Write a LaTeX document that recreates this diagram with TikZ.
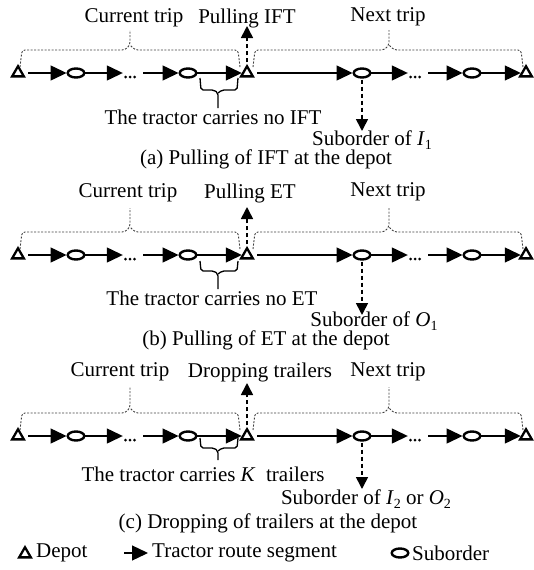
\documentclass[tikz,border=0pt]{standalone}
\usepackage{fontspec}
\setmainfont{Liberation Serif}
\usetikzlibrary{arrows.meta,shapes.geometric}
\newcommand\subtxt[1]{\raisebox{-0.2em}{\fontsize{14}{14}\selectfont #1}}
\newcommand\routerow[2]{%
  \node[depot] (#1d1) at (18,#2) {};
  \node[subord] (#1e1) at (76,#2) {};
  \node[hold] (#1k1) at (130,#2) {};
  \node[subord] (#1e2) at (188,#2) {};
  \node[depot] (#1d2) at (247,#2) {};
  \node[subord] (#1e3) at (362,#2) {};
  \node[hold] (#1k2) at (415,#2) {};
  \node[subord] (#1e4) at (472,#2) {};
  \node[depot] (#1d3) at (526,#2) {};
  \foreach \dx in {-4.5,0,4.5}{\fill ([xshift=\dx pt,yshift=-4pt]#1k1.center) circle (1.5pt);
    \fill ([xshift=\dx pt,yshift=-4pt]#1k2.center) circle (1.5pt);}
  \draw[seg,shorten <=5pt] (#1d1) -- (#1e1);
  \draw[seg] (#1e1) -- (#1k1);
  \draw[seg,shorten <=6pt] (#1k1) -- (#1e2);
  \draw[seg] (#1e2) -- (#1d2);
  \draw[seg,shorten <=5pt] (#1d2) -- (#1e3);
  \draw[seg] (#1e3) -- (#1k2);
  \draw[seg,shorten <=6pt] (#1k2) -- (#1e4);
  \draw[seg] (#1e4) -- (#1d3);
}
% upper dashed brace: xL, xR, xm, row, tipY
\newcommand\upbr[5]{%
  \draw[brc] (#1,#4-6) -- (#1+2,#4-23) -- (#3-5,#4-23) -- (#3,#4-28) -- (#3,#5);
  \draw[brc] (#2,#4-6) -- (#2-2,#4-23) -- (#3+5,#4-23) -- (#3,#4-28);}
% lower solid brace: row, top, h, tip
\newcommand\dnbr[4]{%
  \draw[ubrc] (200,#1+#2) -- (201,#1+#3) -- (214,#1+#3) -- (218,#1+#3+3) -- (218,#1+#4);
  \draw[ubrc] (238,#1+#2) -- (237,#1+#3) -- (222,#1+#3) -- (218,#1+#3+3);}
\begin{document}
\begin{tikzpicture}[x=1pt,y=-1pt,
  txt/.style={font=\fontsize{21}{24}\selectfont, inner sep=0pt},
  ltxt/.style={font=\fontsize{21}{24}\selectfont, inner sep=0pt, anchor=west},
  depot/.style={regular polygon, regular polygon sides=3, draw, line width=2.3pt, minimum size=13.5pt, inner sep=0pt, fill=white},
  subord/.style={ellipse, draw, line width=2.4pt, minimum width=16.5pt, minimum height=9pt, inner sep=0pt, fill=white},
  hold/.style={inner sep=0pt, minimum width=14pt, minimum height=6pt},
  seg/.style={line width=1.3pt, -{Triangle[length=16pt,width=15pt]}},
  darr/.style={line width=1.6pt, dash pattern=on 4pt off 3pt, -{Triangle[length=12pt,width=12pt]}},
  brc/.style={line width=0.9pt, dash pattern=on 2pt off 1.5pt, rounded corners=3pt, black!75},
  ubrc/.style={line width=1.3pt, rounded corners=2pt}]
\useasboundingbox (0,0) rectangle (534,570);

% ---------- panel (a) ----------
\routerow{a}{73}
\node[txt] (acur) at (134,18) {Current trip};
\node[txt] (apul) at (247,18) {Pulling IFT};
\node[txt] (anext) at (388,17) {Next trip};
\node[txt] (atra) at (213,117) {The tractor carries no IFT};
\node[txt] (asub) at (372,140) {Suborder of \textit{I}\subtxt{1}};
\node[txt] (acap) at (266,159) {(a) Pulling of IFT at the depot};
\coordinate (apu) at (247,26);
\coordinate (asu) at (362,131);
\draw[darr,shorten <=1.5pt] (ad2.north) -- (apu);
\draw[darr,shorten <=1pt] (ae3.south) -- (asu);
\upbr{20}{240}{130}{73}{30}
\upbr{253}{523}{389}{73}{30}
\dnbr{73}{5}{17}{35}

% ---------- panel (b) ----------
\routerow{b}{255}
\node[txt] (bcur) at (128,193) {Current trip};
\node[txt] (bpul) at (250,193) {Pulling ET};
\node[txt] (bnext) at (388,192) {Next trip};
\node[txt] (btra) at (212,298) {The tractor carries no ET};
\node[txt] (bsub) at (374,321) {Suborder of \textit{O}\subtxt{1}};
\node[txt] (bcap) at (266,340) {(b) Pulling of ET at the depot};
\coordinate (bpu) at (247,207);
\coordinate (bsu) at (362,315);
\draw[darr,shorten <=1.5pt] (bd2.north) -- (bpu);
\draw[darr,shorten <=1pt] (be3.south) -- (bsu);
\upbr{20}{240}{130}{255}{208}
\upbr{253}{523}{389}{255}{208}
\dnbr{255}{6}{16}{34}

% ---------- panel (c) ----------
\routerow{c}{436}
\node[txt] (ccur) at (120,372) {Current trip};
\node[txt] (cpul) at (260,372) {Dropping trailers};
\node[txt] (cnext) at (388,372) {Next trip};
\node[txt] (ctra) at (203,474) {The tractor carries \textit{K}\hspace{0.5em}trailers};
\node[txt] (csub) at (366,499) {Suborder of \textit{I}\subtxt{2} or \textit{O}\subtxt{2}};
\node[txt] (ccap) at (268,523) {(c) Dropping of trailers at the depot};
\coordinate (cpu) at (247,383);
\coordinate (csu) at (362,489);
\draw[darr,shorten <=1.5pt] (cd2.north) -- (cpu);
\draw[darr,shorten <=1pt] (ce3.south) -- (csu);
\upbr{20}{240}{130}{436}{387}
\upbr{253}{523}{389}{436}{387}
\dnbr{436}{2}{12}{24}

% ---------- legend ----------
\node[depot] (ld) at (25,554) {};
\node[ltxt] (ldt) at (36,553) {Depot};
\coordinate (lsa) at (124,553);
\node[ltxt] (lst) at (152,553) {Tractor route segment};
\draw[seg,shorten >=4pt] (lsa) -- (lst.west);
\node[subord] (le) at (400,553) {};
\node[ltxt] (let) at (412,553) {Suborder};
\end{tikzpicture}
\end{document}
